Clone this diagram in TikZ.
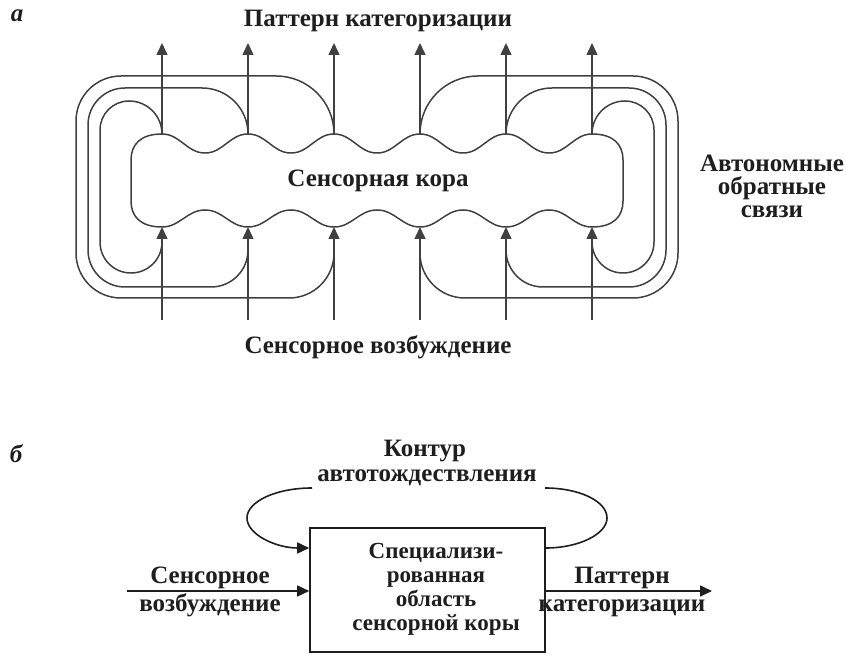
\documentclass[tikz,border=0pt]{standalone}
\usepackage{fontspec}
\setmainfont{Liberation Serif}
\usetikzlibrary{arrows.meta,calc}
\definecolor{ln}{HTML}{404040}
\definecolor{lnb}{HTML}{1E1E1E}
\definecolor{tx}{HTML}{1E1E1E}
\tikzset{
  lbl/.style={font=\fontsize{25}{25}\selectfont\bfseries, text=tx, inner sep=0pt, anchor=base},
  blbl/.style={font=\fontsize{23}{23}\selectfont\bfseries, text=tx, inner sep=0pt, anchor=base},
  tag/.style={font=\fontsize{25}{25}\selectfont\bfseries\itshape, text=tx, inner sep=0pt, anchor=base},
  wire/.style={draw=ln, line width=1.5pt},
  arr/.style={wire, -{Triangle[length=12pt,width=11pt]}},
  wireb/.style={draw=lnb, line width=1.6pt},
  arrb/.style={wireb, -{Triangle[length=12pt,width=11pt]}},
  boxst/.style={draw=lnb, line width=1.6pt, minimum width=235pt, minimum height=124pt, inner sep=0pt}
}
\begin{document}
\begin{tikzpicture}[x=1pt,y=1pt]
\useasboundingbox (0,0) rectangle (846,656);

% ---------- part a ----------
\node[tag] (ta) at (17,634) {а};
\node[lbl] (title) at (378,629) {Паттерн категоризации};
\node[lbl] (cortex) at (378,469) {Сенсорная кора};
\node[lbl] (exc) at (378,302) {Сенсорное возбуждение};
\node[lbl] (fb1) at (772,484) {Автономные};
\node[lbl] (fb2) at (772,461) {обратные};
\node[lbl] (fb3) at (772,438) {связи};

% cortex outline
\draw[wire] (162,522) to[out=0,in=180] (205,503) to[out=0,in=180] (248,522)
  to[out=0,in=180] (291,503) to[out=0,in=180] (334,522)
  to[out=0,in=180] (377,503) to[out=0,in=180] (420,522)
  to[out=0,in=180] (463,503) to[out=0,in=180] (506,522)
  to[out=0,in=180] (549,503) to[out=0,in=180] (592,522)
  .. controls (614,522) and (623,511) .. (623,496) -- (623,455)
  .. controls (623,440) and (614,429) .. (592,429)
  to[out=180,in=0] (549,446) to[out=180,in=0] (506,429)
  to[out=180,in=0] (463,446) to[out=180,in=0] (420,429)
  to[out=180,in=0] (377,446) to[out=180,in=0] (334,429)
  to[out=180,in=0] (291,446) to[out=180,in=0] (248,429)
  to[out=180,in=0] (205,446) to[out=180,in=0] (162,429)
  .. controls (140,429) and (131,440) .. (131,455) -- (131,496)
  .. controls (131,511) and (140,522) .. (162,522) -- cycle;

% left loops
\draw[wire] (162,522) to[out=90,in=0] (129,555) to[out=180,in=90] (100,526) -- (100,414)
  to[out=-90,in=180] (131,383) to[out=0,in=-90] (162,414);
\draw[wire] (248,522) to[out=90,in=0] (202,568) -- (125,568) to[out=180,in=90] (88,531) -- (88,406)
  to[out=-90,in=180] (125,369) -- (211,369) to[out=0,in=-90] (248,406);
\draw[wire] (334,522) to[out=90,in=0] (276,580) -- (121,580) to[out=180,in=90] (76,535) -- (76,403)
  to[out=-90,in=180] (121,358) -- (289,358) to[out=0,in=-90] (334,403);
% right loops
\draw[wire] (592,522) to[out=90,in=180] (625,555) to[out=0,in=90] (654,526) -- (654,414)
  to[out=-90,in=0] (623,383) to[out=180,in=-90] (592,414);
\draw[wire] (506,522) to[out=90,in=180] (552,568) -- (629,568) to[out=0,in=90] (666,531) -- (666,406)
  to[out=-90,in=0] (629,369) -- (543,369) to[out=180,in=-90] (506,406);
\draw[wire] (420,522) to[out=90,in=180] (478,580) -- (633,580) to[out=0,in=90] (678,535) -- (678,403)
  to[out=-90,in=0] (633,358) -- (465,358) to[out=180,in=-90] (420,403);

% column arrows
\foreach \x [count=\i] in {162,248,334,420,506,592} {
  \coordinate (top\i) at (\x,522);
  \coordinate (tip\i) at (\x,613);
  \coordinate (bot\i) at (\x,336);
  \coordinate (in\i) at (\x,429);
  \draw[arr] (top\i) -- (tip\i);
  \draw[arr] (bot\i) -- (in\i);
}

% ---------- part b ----------
\node[tag] (tb) at (16,193) {б};
\node[lbl] (loop1) at (425,199) {Контур};
\node[lbl] (loop2) at (427,174) {автотождествления};
\node[boxst] (box) at (427.5,66) {};
\node[blbl] (bx1) at (436,97) {Специализи-};
\node[blbl] (bx2) at (436,73) {рованная};
\node[blbl] (bx3) at (436,49) {область};
\node[blbl] (bx4) at (436,25) {сенсорной коры};
\node[lbl] (in1) at (210,72) {Сенсорное};
\node[lbl] (in2) at (210,44) {возбуждение};
\node[lbl] (out1) at (622,72) {Паттерн};
\node[lbl] (out2) at (622,44) {категоризации};

\coordinate (src) at (127,65);
\coordinate (dst) at (712,65);
\coordinate (ltop) at (312,168);
\coordinate (rtop) at (545,168);
\draw[arrb] (src) -- (box.west |- src);
\draw[arrb] (box.east |- dst) -- (dst);
\draw[arrb] (ltop) .. controls (276,168) and (247,154.5) .. (247,138)
  .. controls (247,121.5) and (276,108) .. ($(box.west)+(0,42)$);
\draw[wireb] ($(box.east)+(0,42)$) .. controls (579,108) and (607,122) .. (607,138)
  .. controls (607,155) and (579,168) .. (rtop);
\end{tikzpicture}
\end{document}
